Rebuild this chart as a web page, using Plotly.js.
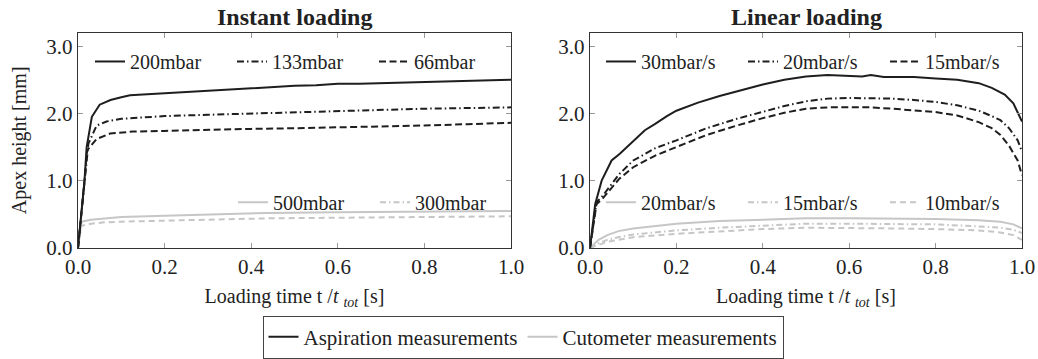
<!DOCTYPE html>
<html>
<head>
<meta charset="utf-8">
<script src="https://cdn.plot.ly/plotly-3.0.1.min.js"></script>
<style>html,body{margin:0;padding:0;background:#fff;}#chart{width:1038px;height:359px;}</style>
</head>
<body>
<div id="chart"></div>
<script>
// ---------- Instant loading (left panel) ----------
const inst200X = [0, 0.008, 0.015, 0.02, 0.032, 0.05, 0.075, 0.1, 0.12, 0.15, 0.2, 0.25, 0.3, 0.35, 0.4, 0.45, 0.5, 0.55, 0.6, 0.65, 0.7, 0.75, 0.8, 0.85, 0.9, 0.95, 1.0];
const inst200Y = [0, 0.5, 1.0, 1.5, 1.95, 2.13, 2.2, 2.24, 2.27, 2.28, 2.30, 2.32, 2.34, 2.36, 2.38, 2.39, 2.41, 2.42, 2.44, 2.44, 2.45, 2.46, 2.47, 2.48, 2.49, 2.49, 2.50];
const inst133X = [0, 0.008, 0.015, 0.024, 0.043, 0.066, 0.1, 0.15, 0.2, 0.3, 0.4, 0.5, 0.6, 0.7, 0.8, 0.9, 1.0];
const inst133Y = [0, 0.5, 1.0, 1.55, 1.82, 1.88, 1.92, 1.94, 1.96, 1.98, 2.00, 2.02, 2.04, 2.05, 2.07, 2.08, 2.09];
const inst66X = [0, 0.008, 0.015, 0.021, 0.043, 0.074, 0.127, 0.2, 0.3, 0.4, 0.5, 0.6, 0.7, 0.8, 0.9, 1.0];
const inst66Y = [0, 0.5, 1.0, 1.45, 1.62, 1.70, 1.73, 1.74, 1.76, 1.77, 1.78, 1.79, 1.80, 1.82, 1.84, 1.86];
const cutoInstX = [0, 0.008, 0.03, 0.06, 0.1, 0.2, 0.3, 0.44, 0.6, 0.8, 1.0];
const cuto500Y = [0, 0.39, 0.42, 0.44, 0.46, 0.48, 0.50, 0.52, 0.53, 0.54, 0.55];
const cuto300Y = [0, 0.33, 0.36, 0.38, 0.39, 0.40, 0.42, 0.44, 0.45, 0.46, 0.47];

// ---------- Linear loading (right panel) ----------
const lin30X = [0, 0.012, 0.027, 0.05, 0.069, 0.085, 0.104, 0.127, 0.15, 0.178, 0.2, 0.25, 0.3, 0.35, 0.4, 0.45, 0.5, 0.55, 0.6, 0.63, 0.65, 0.68, 0.7, 0.75, 0.8, 0.85, 0.9, 0.93, 0.96, 0.98, 1.0];
const lin30Y = [0, 0.65, 1.0, 1.3, 1.4, 1.5, 1.62, 1.75, 1.84, 1.96, 2.04, 2.16, 2.26, 2.35, 2.43, 2.50, 2.55, 2.57, 2.56, 2.55, 2.57, 2.54, 2.54, 2.54, 2.52, 2.50, 2.45, 2.38, 2.28, 2.15, 1.88];
const linX = [0, 0.015, 0.03, 0.05, 0.068, 0.1, 0.15, 0.2, 0.27, 0.34, 0.4, 0.45, 0.5, 0.55, 0.6, 0.65, 0.7, 0.75, 0.8, 0.85, 0.9, 0.93, 0.95, 0.97, 0.99, 1.0];
const lin20Y = [0, 0.68, 0.78, 0.95, 1.1, 1.3, 1.48, 1.6, 1.78, 1.92, 2.03, 2.11, 2.18, 2.22, 2.23, 2.23, 2.22, 2.20, 2.17, 2.12, 2.04, 1.96, 1.90, 1.78, 1.60, 1.43];
const lin15Y = [0, 0.65, 0.74, 0.9, 1.03, 1.2, 1.37, 1.5, 1.68, 1.82, 1.93, 2.01, 2.07, 2.09, 2.09, 2.09, 2.07, 2.05, 2.02, 1.97, 1.87, 1.78, 1.68, 1.52, 1.30, 1.08];
const cutoLinX = [0, 0.02, 0.04, 0.066, 0.1, 0.2, 0.3, 0.4, 0.5, 0.6, 0.7, 0.8, 0.9, 0.95, 0.98, 1.0];
const cuto20Y = [0, 0.12, 0.19, 0.25, 0.29, 0.36, 0.40, 0.42, 0.44, 0.44, 0.44, 0.43, 0.41, 0.39, 0.35, 0.29];
const cuto15Y = [0, 0.07, 0.12, 0.16, 0.20, 0.26, 0.30, 0.33, 0.36, 0.36, 0.36, 0.35, 0.32, 0.30, 0.27, 0.22];
const cuto10Y = [0, 0.05, 0.09, 0.12, 0.16, 0.21, 0.25, 0.28, 0.30, 0.30, 0.29, 0.28, 0.26, 0.23, 0.19, 0.12];

// ---------- labels ----------
const panelTitles = ['Instant loading', 'Linear loading'];
const xTitle = 'Loading time t /<i>t</i> <sub><i>tot</i></sub> [s]';
const yTitle = 'Apex height [mm]';
const instNames = ['200mbar', '133mbar', '66mbar'];
const instCutoNames = ['500mbar', '300mbar'];
const linNames = ['30mbar/s', '20mbar/s', '15mbar/s'];
const linCutoNames = ['20mbar/s', '15mbar/s', '10mbar/s'];
const groupNames = ['Aspiration measurements', 'Cutometer measurements'];

const BLACK = '#1e1e1e', GRAY = '#c6c6c6';
const SOLID = 'solid', DASH = '7px,3.5px', DASHDOT = '7px,3px,1.5px,3px', GDASH = '6px,4px', GDASHDOT = '6px,3px,1.5px,3px';

function line(x, y, color, dash, ax, name) {
  return {x: x, y: y, type: 'scatter', mode: 'lines', xaxis: ax[0], yaxis: ax[1], name: name,
          showlegend: false, hoverinfo: 'skip', line: {color: color, width: 2, dash: dash}};
}
function key(name, color, dash, legend) {
  return {x: [null], y: [null], type: 'scatter', mode: 'lines', name: name, legend: legend,
          xaxis: 'x', yaxis: 'y', showlegend: true, hoverinfo: 'skip', line: {color: color, width: 2, dash: dash}};
}
const L = ['x', 'y'], R = ['x2', 'y2'];
const traces = [
  line(cutoInstX, cuto500Y, GRAY, SOLID, L), line(cutoInstX, cuto300Y, GRAY, GDASH, L),
  line(inst200X, inst200Y, BLACK, SOLID, L), line(inst133X, inst133Y, BLACK, DASHDOT, L), line(inst66X, inst66Y, BLACK, DASH, L),
  line(cutoLinX, cuto20Y, GRAY, SOLID, R), line(cutoLinX, cuto15Y, GRAY, GDASHDOT, R), line(cutoLinX, cuto10Y, GRAY, GDASH, R),
  line(lin30X, lin30Y, BLACK, SOLID, R), line(linX, lin20Y, BLACK, DASHDOT, R), line(linX, lin15Y, BLACK, DASH, R),
  key(groupNames[0], BLACK, SOLID, 'legend'), key(groupNames[1], GRAY, SOLID, 'legend'),
  key(instNames[0], BLACK, SOLID, 'legend2'), key(instNames[1], BLACK, DASHDOT, 'legend2'), key(instNames[2], BLACK, DASH, 'legend2'),
  key(instCutoNames[0], GRAY, SOLID, 'legend3'), key(instCutoNames[1], GRAY, GDASHDOT, 'legend3'),
  key(linNames[0], BLACK, SOLID, 'legend4'), key(linNames[1], BLACK, DASHDOT, 'legend4'), key(linNames[2], BLACK, DASH, 'legend4'),
  key(linCutoNames[0], GRAY, SOLID, 'legend5'), key(linCutoNames[1], GRAY, GDASHDOT, 'legend5'), key(linCutoNames[2], GRAY, GDASH, 'legend5')
];

const FONT = 'Liberation Serif';
const TXT = '#222';
function xax(domain, anchor) {
  return {domain: domain, anchor: anchor, range: [0, 1], tick0: 0, dtick: 0.2, tickformat: '.1f',
          ticks: 'inside', ticklen: 5, tickcolor: '#999', tickwidth: 1, mirror: 'allticks',
          showline: true, linecolor: '#333', linewidth: 1.2, showgrid: false, zeroline: false,
          tickfont: {size: 21, family: FONT, color: TXT},
          title: {text: xTitle, font: {size: 20, family: FONT, color: TXT}, standoff: 10}, fixedrange: true};
}
function yax(domain, anchor, withTitle) {
  const a = {domain: domain, anchor: anchor, range: [0, 3.2], tick0: 0, dtick: 1, tickformat: '.1f',
          ticks: 'inside', ticklen: 5, tickcolor: '#999', tickwidth: 1, mirror: 'allticks',
          showline: true, linecolor: '#333', linewidth: 1.2, showgrid: false, zeroline: false,
          tickfont: {size: 21, family: FONT, color: TXT}, fixedrange: true};
  if (withTitle) a.title = {text: yTitle, font: {size: 20, family: FONT, color: TXT}, standoff: 14};
  return a;
}
function inLegend(x, y) {
  return {orientation: 'h', x: x, xanchor: 'left', y: y, yanchor: 'middle', bgcolor: 'rgba(0,0,0,0)',
          borderwidth: 0, font: {size: 20, family: FONT, color: TXT}, entrywidth: 97, entrywidthmode: 'pixels', tracegroupgap: 0};
}
const W = 1038, H = 359;
const layout = {
  width: W, height: H, margin: {l: 0, r: 0, t: 0, b: 0},
  paper_bgcolor: '#fff', plot_bgcolor: '#fff',
  font: {family: FONT, color: TXT, size: 20},
  xaxis: xax([78 / W, 511 / W], 'y'),
  yaxis: yax([(H - 250) / H, (H - 33) / H], 'x', true),
  xaxis2: xax([590 / W, 1022 / W], 'y2'),
  yaxis2: yax([(H - 250) / H, (H - 33) / H], 'x2', false),
  legend: {orientation: 'h', x: 523 / W, xanchor: 'center', y: (H - 340) / H, yanchor: 'middle',
           bordercolor: '#444', borderwidth: 1, bgcolor: '#fff', font: {size: 21, family: FONT, color: TXT}},
  legend2: inLegend(90 / W, (H - 62) / H),
  legend3: inLegend(233 / W, (H - 204) / H),
  legend4: inLegend(601 / W, (H - 62) / H),
  legend5: inLegend(601 / W, (H - 204) / H),
  showlegend: true,
  annotations: [
    {text: '<b>' + panelTitles[0] + '</b>', xref: 'paper', yref: 'paper', x: 294 / W, y: (H - 17) / H, showarrow: false,
     xanchor: 'center', yanchor: 'middle', font: {size: 24, family: FONT, color: TXT}},
    {text: '<b>' + panelTitles[1] + '</b>', xref: 'paper', yref: 'paper', x: 806 / W, y: (H - 17) / H, showarrow: false,
     xanchor: 'center', yanchor: 'middle', font: {size: 24, family: FONT, color: TXT}}
  ]
};
Plotly.newPlot('chart', traces, layout, {staticPlot: true, displayModeBar: false});
</script>
</body>
</html>
